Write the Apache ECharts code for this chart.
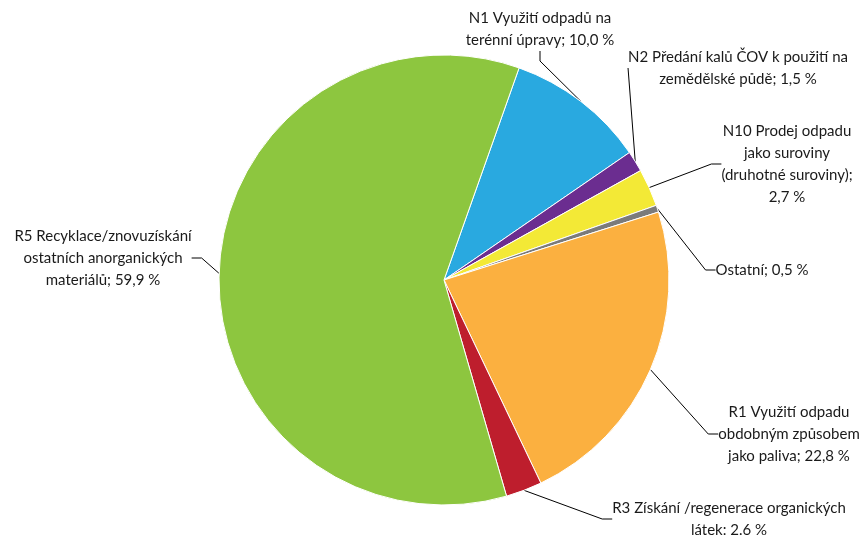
<!DOCTYPE html>
<html lang="cs">
<head>
    <meta charset="UTF-8">
    <title>Nakládání s odpady</title>
    <script src="https://cdn.jsdelivr.net/npm/echarts@6/dist/echarts.min.js"></script>
    <style>
        html, body { margin: 0; padding: 0; background: #fff; }
    </style>
</head>
<body>
<div id="main" style="width: 864px;height:535px;"></div>

<script type="text/javascript">
    // data
    var categories = [
        'N1 Využití odpadů na\nterénní úpravy',
        'N2 Předání kalů ČOV k použití na\nzemědělské půdě',
        'N10 Prodej odpadu\njako suroviny\n(druhotné suroviny);\n',
        'Ostatní',
        'R1 Využití odpadu\nobdobným způsobem\njako paliva',
        'R3 Získání /regenerace organických\nlátek:',
        'R5 Recyklace/znovuzískání\nostatních anorganických\nmateriálů'
    ];
    var values = [10.0, 1.5, 2.7, 0.5, 22.8, 2.6, 59.9];
    var valueTexts = ['10,0 %', '1,5 %', '2,7 %', '0,5 %', '22,8 %', '2.6 %', '59,9 %'];
    var colors = ['#29a9e0', '#6b2d90', '#f3e936', '#7b7b7b', '#fbb040', '#be1e2d', '#8dc63f'];

    // label centre positions (px)
    var labelPos = [
        [540, 29], [738, 68], [787, 164], [762, 270], [789, 434], [729, 519], [103, 258]
    ];

    var myChart = echarts.init(document.getElementById('main'));

    var seriesData = values.map(function (v, i) {
        var last = categories[i].slice(-1);
        var sep = last === '\n' ? '' : (last === ':' ? ' ' : '; ');
        return {
            name: categories[i],
            value: v,
            label: { formatter: categories[i] + sep + valueTexts[i] },
            itemStyle: { color: colors[i] }
        };
    });

    var option = {
        animation: false,
        series: [
            {
                type: 'pie',
                center: [444, 280],
                radius: [0, 225],
                startAngle: 70.5,
                clockwise: true,
                avoidLabelOverlap: false,
                itemStyle: { borderColor: '#fff', borderWidth: 1 },
                label: {
                    show: true,
                    position: 'outside',
                    color: '#1a1a1a',
                    fontFamily: 'Lato',
                    fontSize: 15,
                    lineHeight: 22,
                    align: 'center'
                },
                labelLine: {
                    show: true,
                    length: 10,
                    length2: 10,
                    lineStyle: { color: '#000', width: 1 }
                },
                labelLayout: function (params) {
                    var p = labelPos[params.dataIndex];
                    return {
                        x: p[0],
                        y: p[1],
                        align: 'center',
                        verticalAlign: 'middle'
                    };
                },
                data: seriesData
            }
        ]
    };

    myChart.setOption(option);
</script>
</body>
</html>
